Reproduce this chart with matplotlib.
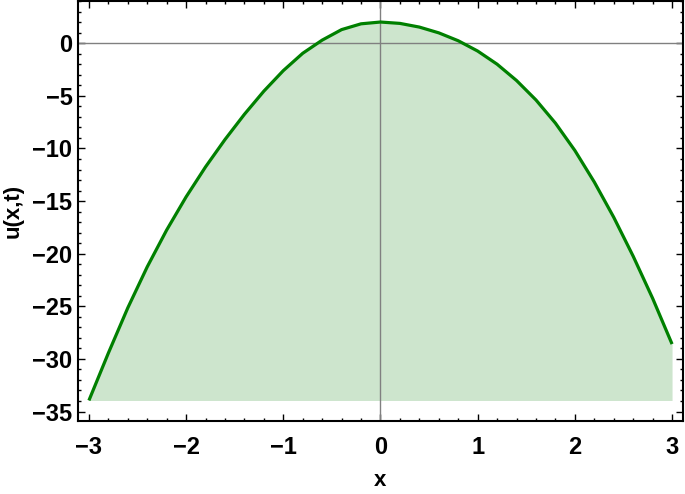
import matplotlib
matplotlib.use("Agg")
import matplotlib.pyplot as plt
from matplotlib.ticker import MultipleLocator

# values, every 0.2 in x
x_vals = [-3.0, -2.8, -2.6, -2.4, -2.2, -2.0, -1.8, -1.6, -1.4, -1.2, -1.0,
          -0.8, -0.6, -0.4, -0.2, 0.0, 0.2, 0.4, 0.6, 0.8, 1.0,
          1.2, 1.4, 1.6, 1.8, 2.0, 2.2, 2.4, 2.6, 2.8, 3.0]
u_vals = [-33.95, -29.45, -25.15, -21.25, -17.75, -14.6, -11.75, -9.15, -6.75, -4.55, -2.6,
          -0.95, 0.3, 1.3, 1.85, 2.02, 1.89, 1.54, 0.99, 0.24, -0.74,
          -1.99, -3.54, -5.39, -7.59, -10.19, -13.19, -16.54, -20.24, -24.24, -28.59]

x_ticks = [-3, -2, -1, 0, 1, 2, 3]
y_ticks = [0, -5, -10, -15, -20, -25, -30, -35]

plt.rcParams['font.family'] = ['Liberation Sans', 'DejaVu Sans']
plt.rcParams['font.weight'] = 'bold'

fig = plt.figure(figsize=(6.85, 4.94), dpi=100)
ax = fig.add_axes([0.1139, 0.1478, 0.997 - 0.1139, 0.998 - 0.1478])

# filling down to the curve's lowest value
ax.fill_between(x_vals, u_vals, min(u_vals), color='#cde5cd', linewidth=0)
ax.axhline(0, color='#808080', linewidth=1.0)
ax.axvline(0, color='#808080', linewidth=1.0)
ax.plot(x_vals, u_vals, color='#008000', linewidth=2.3,
        solid_joinstyle='round', solid_capstyle='butt')

ax.set_xlim(-3.112, 3.112)
ax.set_ylim(-35.9, 4.02)

ax.set_xticks(x_ticks)
ax.set_yticks(y_ticks)
ax.set_xticklabels(['\u22123', '\u22122', '\u22121', '0', '1', '2', '3'])
ax.set_yticklabels(['0' if v == 0 else '\u2212%d' % -v for v in y_ticks])
ax.xaxis.set_minor_locator(MultipleLocator(0.2))
ax.yaxis.set_minor_locator(MultipleLocator(1))

ax.tick_params(which='both', direction='in', top=True, right=True,
               width=1.0, labelsize=17, colors='black')
ax.tick_params(which='major', length=5)
ax.tick_params(which='minor', length=2.5)
ax.tick_params(axis='x', pad=11)
ax.tick_params(axis='y', pad=4)

for side in ax.spines.values():
    side.set_linewidth(1.5)
    side.set_color('black')

ax.set_xlabel('x', fontsize=16, fontweight='bold', labelpad=8)
ax.set_ylabel('u(x,t)', fontsize=16, fontweight='bold', labelpad=6)

fig.savefig('out.png', dpi=100)
